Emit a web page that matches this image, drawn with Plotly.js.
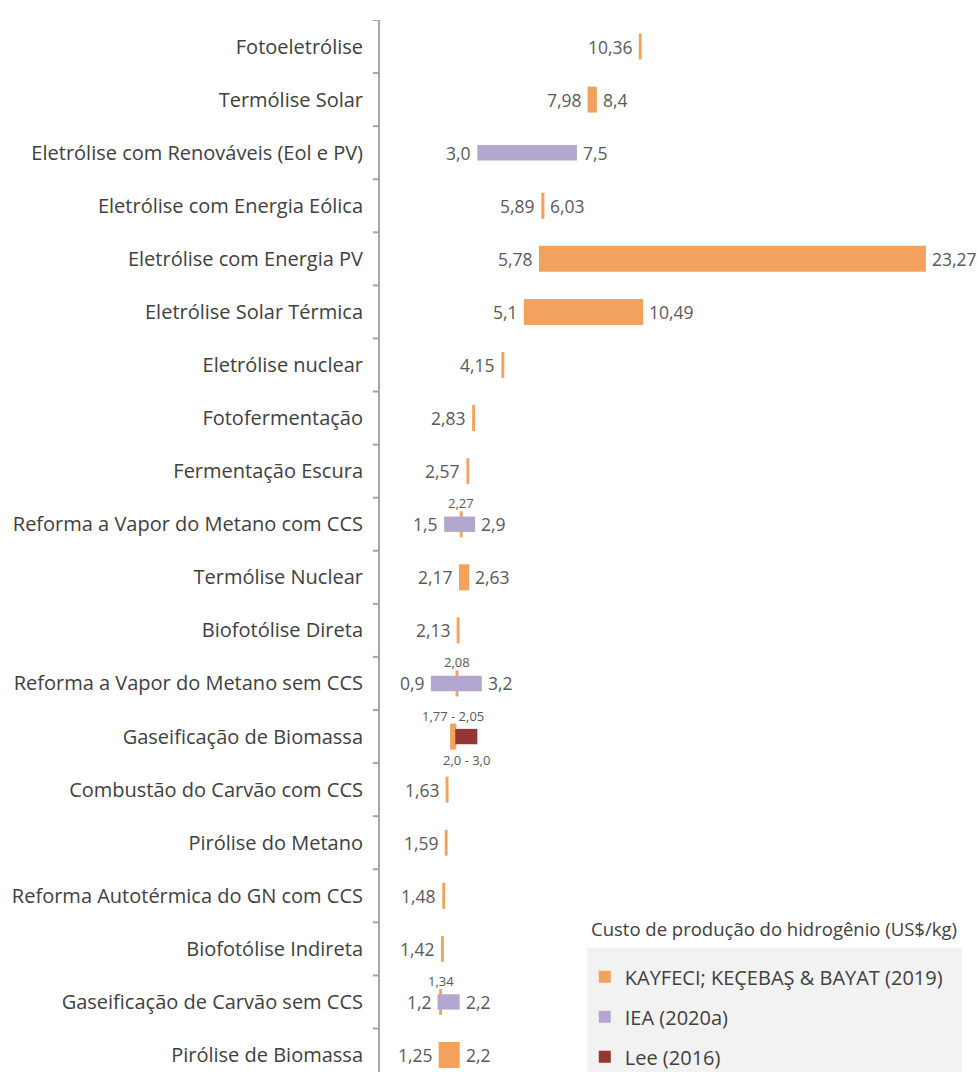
<!DOCTYPE html>
<html>
<head>
<meta charset="utf-8">
<script src="https://cdn.plot.ly/plotly-3.0.1.min.js"></script>
<style>html,body{margin:0;padding:0;background:#fff;}#chart{width:977px;height:1072px;}</style>
</head>
<body>
<div id="chart"></div>
<script>
// ---- DATA ----
const categories = [
  "Fotoeletrólise",
  "Termólise Solar",
  "Eletrólise com Renováveis (Eol e PV)",
  "Eletrólise com Energia Eólica",
  "Eletrólise com Energia PV",
  "Eletrólise Solar Térmica",
  "Eletrólise nuclear",
  "Fotofermentação",
  "Fermentação Escura",
  "Reforma a Vapor do Metano com CCS",
  "Termólise Nuclear",
  "Biofotólise Direta",
  "Reforma a Vapor do Metano sem CCS",
  "Gaseificação de Biomassa",
  "Combustão do Carvão com CCS",
  "Pirólise do Metano",
  "Reforma Autotérmica do GN com CCS",
  "Biofotólise Indireta",
  "Gaseificação de Carvão sem CCS",
  "Pirólise de Biomassa"
];
// KAYFECI; KEÇEBAŞ & BAYAT (2019): min / max (null max = single value)
const kayMin = [10.36, 7.98, null, 5.89, 5.78, 5.1, 4.15, 2.83, 2.57, 2.27, 2.17, 2.13, 2.08, 1.77, 1.63, 1.59, 1.48, 1.42, 1.34, 1.25];
const kayMax = [null, 8.4, null, 6.03, 23.27, 10.49, null, null, null, null, 2.63, null, null, 2.05, null, null, null, null, null, 2.2];
// IEA (2020a)
const ieaMin = [null, null, 3.0, null, null, null, null, null, null, 1.5, null, null, 0.9, null, null, null, null, null, 1.2, null];
const ieaMax = [null, null, 7.5, null, null, null, null, null, null, 2.9, null, null, 3.2, null, null, null, null, null, 2.2, null];
// Lee (2016)
const leeMin = [null, null, null, null, null, null, null, null, null, null, null, null, null, 2.0, null, null, null, null, null, null];
const leeMax = [null, null, null, null, null, null, null, null, null, null, null, null, null, 3.0, null, null, null, null, null, null];

const seriesNames = ["KAYFECI; KEÇEBAŞ & BAYAT (2019)", "IEA (2020a)", "Lee (2016)"];
const legendTitle = "Custo de produção do hidrogênio (US$/kg)";

// ---- STYLE ----
const colors = ["#F2A25C", "#B4A7CF", "#963634"];
const FONT = "Open Sans, Liberation Sans, sans-serif";
const labelColor = "#595959";
const lineW = 0.13; // visible width for single-value markers

function fmt(v) {
  const d = Math.abs(Math.round(v * 10) - v * 10) < 1e-9 ? 1 : 2;
  return v.toFixed(d).replace(".", ",");
}

function buildTrace(mins, maxs, idx, width) {
  const y = [], base = [], x = [];
  mins.forEach((mn, i) => {
    if (mn === null) return;
    const mx = maxs[i];
    if (mx === null || mx - mn < lineW) {
      const c = mx === null ? mn : (mn + mx) / 2;
      base.push(c - lineW / 2); x.push(lineW);
    } else {
      base.push(mn); x.push(mx - mn);
    }
    y.push(i);
  });
  return {
    type: "bar", orientation: "h", name: seriesNames[idx],
    y: y, x: x, base: base, width: width,
    marker: {color: colors[idx], line: {width: 0}},
    legendgroup: "g" + idx, hoverinfo: "skip"
  };
}

const traces = [
  buildTrace(kayMin, kayMax, 0, 0.49),
  buildTrace(ieaMin, ieaMax, 1, 0.29),
  buildTrace(leeMin, leeMax, 2, 0.29)
];

const annotations = [];
function ann(x, y, text, xanchor, xshift, yshift, size) {
  annotations.push({x: x, y: y, xref: "x", yref: "y", text: text, showarrow: false,
    xanchor: xanchor, yanchor: "middle", xshift: xshift, yshift: yshift,
    font: {family: FONT, size: size, color: labelColor}});
}
const VS = 17.5, SS = 13;
categories.forEach((c, i) => {
  const hasOther = ieaMin[i] !== null || leeMin[i] !== null;
  if (kayMin[i] !== null) {
    if (!hasOther) {
      const lo = kayMax[i] === null ? kayMin[i] - lineW / 2 : kayMin[i];
      ann(lo, i, fmt(kayMin[i]), "right", -4, 0, VS);
      if (kayMax[i] !== null) ann(Math.max(kayMax[i], kayMin[i] + lineW), i, fmt(kayMax[i]), "left", 4, 0, VS);
    } else {
      const txt = kayMax[i] === null ? fmt(kayMin[i]) : fmt(kayMin[i]) + " - " + fmt(kayMax[i]);
      const cx = kayMax[i] === null ? kayMin[i] : (kayMin[i] + kayMax[i]) / 2;
      ann(cx, i, txt, "center", 0, 21, SS);
    }
  }
  if (ieaMin[i] !== null) {
    ann(ieaMin[i], i, fmt(ieaMin[i]), "right", -4, 0, VS);
    ann(ieaMax[i], i, fmt(ieaMax[i]), "left", 4, 0, VS);
  }
  if (leeMin[i] !== null) {
    ann((leeMin[i] + leeMax[i]) / 2, i, fmt(leeMin[i]) + " - " + fmt(leeMax[i]), "center", 0, -23, SS);
  }
});
annotations.push({x: 0.350, y: 0.136, xref: "paper", yref: "paper", text: legendTitle,
  showarrow: false, xanchor: "left", yanchor: "middle",
  font: {family: FONT, size: 18.5, color: "#404040"}});

const layout = {
  width: 977, height: 1072,
  margin: {l: 380, r: 0, t: 20, b: 0, autoexpand: false},
  paper_bgcolor: "#ffffff", plot_bgcolor: "rgba(0,0,0,0)",
  barmode: "overlay",
  showlegend: true,
  legend: {x: 0.343, y: 0.109, xanchor: "left", yanchor: "top",
    bgcolor: "rgba(0,0,0,0)", borderwidth: 0, traceorder: "grouped", tracegroupgap: 11,
    font: {family: FONT, size: 20, color: "#404040"}, itemwidth: 30},
  xaxis: {range: [-1.4, 25.58], visible: false, fixedrange: true},
  yaxis: {
    type: "linear", range: [19.32, -0.5],
    tickmode: "array", tickvals: categories.map((c, i) => i), ticktext: categories,
    showgrid: false, zeroline: false,
    showline: true, linecolor: "#A6A6A6", linewidth: 2,
    ticks: "", ticklabelstandoff: 11,
    tickfont: {family: FONT, size: 20, color: "#404040"},
    automargin: false, fixedrange: true
  },
  shapes: categories.map((c, i) => ({type: "line", xref: "paper", yref: "y",
      x0: -0.012, x1: 0, y0: i - 0.5, y1: i - 0.5, line: {color: "#A6A6A6", width: 2}}))
    .concat([{type: "rect", xref: "paper", yref: "paper", layer: "below",
      x0: 0.347, x1: 0.975, y0: -0.02, y1: 0.118, fillcolor: "#F2F2F2", line: {width: 0}}]),
  annotations: annotations,
  font: {family: FONT}
};

Plotly.newPlot("chart", traces, layout, {displayModeBar: false, staticPlot: true});
</script>
</body>
</html>
